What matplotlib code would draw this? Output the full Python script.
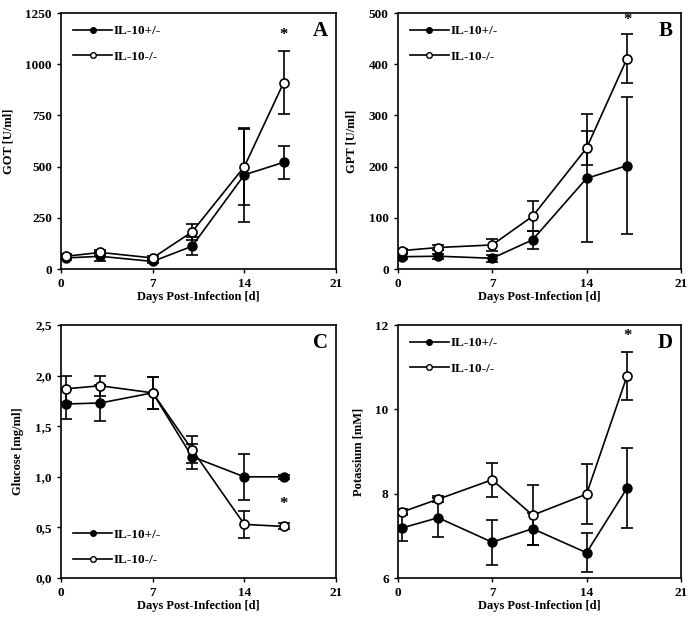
import matplotlib
matplotlib.use("Agg")
import matplotlib.pyplot as plt
from matplotlib.lines import Line2D

plt.rcParams['font.family'] = ['Liberation Serif', 'DejaVu Serif']
plt.rcParams['font.weight'] = 'bold'

days = [0.35, 3, 7, 10, 14, 17]

# Panel A - GOT [U/ml]
got_het = [54, 62, 37, 111, 460, 521]
got_het_err = [12, 22, 10, 45, 230, 80]
got_ko = [62, 81, 54, 181, 500, 910]
got_ko_err = [10, 12, 10, 40, 185, 155]

# Panel B - GPT [U/ml]
gpt_het = [24, 25, 21, 57, 177, 202]
gpt_het_err = [5, 5, 7, 17, 125, 134]
gpt_ko = [36, 42, 47, 103, 236, 411]
gpt_ko_err = [4, 4, 11, 29, 33, 48]

# Panel C - Glucose [mg/ml]
glc_het = [1.72, 1.73, 1.83, 1.20, 1.00, 1.00]
glc_het_err = [0.15, 0.18, 0.16, 0.12, 0.23, 0.02]
glc_ko = [1.87, 1.90, 1.83, 1.27, 0.53, 0.51]
glc_ko_err = [0.13, 0.10, 0.16, 0.13, 0.13, 0.03]

# Panel D - Potassium [mM]
pot_het = [7.19, 7.43, 6.85, 7.17, 6.60, 8.13]
pot_het_err = [0.32, 0.46, 0.53, 0.38, 0.46, 0.95]
pot_ko = [7.57, 7.87, 8.33, 7.49, 7.99, 10.79]
pot_ko_err = [0.07, 0.07, 0.41, 0.71, 0.71, 0.57]

labels = ['IL-10+/-', 'IL-10-/-']
xticks = [0, 7, 14, 21]

panels = [
    ('A', 'GOT [U/ml]', [0, 250, 500, 750, 1000, 1250], ['0', '250', '500', '750', '1000', '1250'],
     got_het, got_het_err, got_ko, got_ko_err, 1144, 'upper left'),
    ('B', 'GPT [U/ml]', [0, 100, 200, 300, 400, 500], ['0', '100', '200', '300', '400', '500'],
     gpt_het, gpt_het_err, gpt_ko, gpt_ko_err, 486, 'upper left'),
    ('C', 'Glucose [mg/ml]', [0, 0.5, 1.0, 1.5, 2.0, 2.5], ['0,0', '0,5', '1,0', '1,5', '2,0', '2,5'],
     glc_het, glc_het_err, glc_ko, glc_ko_err, 0.73, 'lower left'),
    ('D', 'Potassium [mM]', [6, 8, 10, 12], ['6', '8', '10', '12'],
     pot_het, pot_het_err, pot_ko, pot_ko_err, 11.74, 'upper left'),
]

fig = plt.figure(figsize=(6.95, 6.18), dpi=100)
rects = [
    [0.0878, 0.5647, 0.3957, 0.4142],
    [0.5722, 0.5647, 0.4076, 0.4142],
    [0.0878, 0.0647, 0.3957, 0.4093],
    [0.5722, 0.0647, 0.4076, 0.4093],
]

handles = [
    Line2D([], [], color='black', lw=1.2, marker='o', ms=4, mfc='black', mec='black'),
    Line2D([], [], color='black', lw=1.2, marker='o', ms=4, mfc='white', mec='black', mew=1),
]

for rect, p in zip(rects, panels):
    letter, ylab, yt, ytl, het, het_e, ko, ko_e, star_y, loc = p
    ax = fig.add_axes(rect)
    ax.errorbar(days, het, yerr=het_e, color='black', lw=1.2, marker='o', ms=6.5,
                mfc='black', mec='black', capsize=4.5, capthick=1.2, elinewidth=1.2,
                zorder=3)
    ax.errorbar(days, ko, yerr=ko_e, color='black', lw=1.2, marker='o', ms=6.5,
                mfc='white', mec='black', mew=1.2, capsize=4.5, capthick=1.2,
                elinewidth=1.2, zorder=4)
    ax.text(days[-1], star_y, '*', ha='center', va='center', fontsize=12, fontweight='bold')
    ax.text(0.97, 0.93, letter, transform=ax.transAxes, ha='right', va='center',
            fontsize=15, fontweight='bold')
    ax.set_xlim(0, 21)
    ax.set_ylim(yt[0], yt[-1])
    ax.set_xticks(xticks)
    ax.set_yticks(yt)
    ax.set_yticklabels(ytl)
    ax.tick_params(direction='out', length=3, width=1, labelsize=9.5)
    for s in ax.spines.values():
        s.set_linewidth(1.2)
    ax.set_xlabel('Days Post-Infection [d]', fontsize=9, fontweight='bold', labelpad=1)
    ax.set_ylabel(ylab, fontsize=9, fontweight='bold', labelpad=8)
    ax.legend(handles, labels, loc=loc, frameon=False, fontsize=9.5,
              handlelength=3.0, handletextpad=0.1, labelspacing=1.0,
              borderaxespad=0.5)

fig.savefig('out.png', dpi=100)
